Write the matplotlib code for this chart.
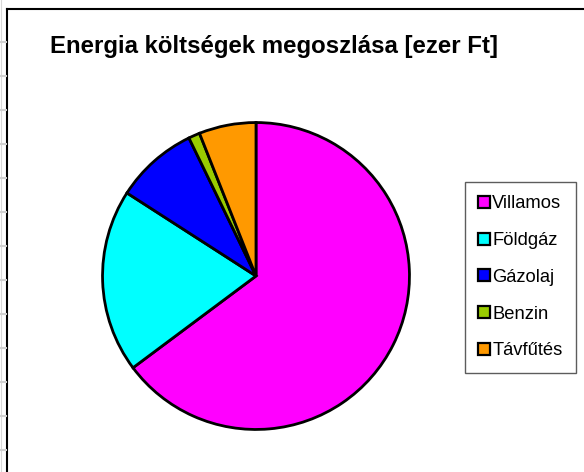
"""
Energia költségek megoszlása - kördiagram újrarajzolása.
"""

import matplotlib
matplotlib.use('Agg')
import matplotlib.pyplot as plt
from matplotlib.lines import Line2D

# adatok (becsült részesedés, %)
labels = ['Villamos', 'Földgáz', 'Gázolaj', 'Benzin', 'Távfűtés']
values = [64.8, 19.3, 8.7, 1.2, 6.0]
colors = ['#FF00FF', '#00FFFF', '#0000FF', '#99CC00', '#FF9900']

TITLE = 'Energia költségek megoszlása [ezer Ft]'
W, H = 584, 472
DPI = 100

plt.rcParams['font.family'] = ['Liberation Sans', 'DejaVu Sans']

fig = plt.figure(figsize=(W / DPI, H / DPI), dpi=DPI)


def px(x, y):
    # pixel (top-left origin) -> figure fraction
    return x / W, 1 - y / H


# keret: bal és felső vonal, szürke osztásjelek a bal sávban
fig.add_artist(Line2D([px(7, 0)[0], px(7, 0)[0]], [0, px(0, 9)[1]],
                      color='black', lw=1.5, transform=fig.transFigure))
fig.add_artist(Line2D([px(7, 0)[0], 1], [px(0, 9)[1], px(0, 9)[1]],
                      color='black', lw=1.5, transform=fig.transFigure))
fig.add_artist(Line2D([px(1, 0)[0], px(1, 0)[0]], [0, 1],
                      color='#d8d8d8', lw=0.8, transform=fig.transFigure))
for ty in range(42, 472, 34):
    fig.add_artist(Line2D([px(1, 0)[0], px(6, 0)[0]], [px(0, ty)[1], px(0, ty)[1]],
                          color='#d0d0d0', lw=1.5, transform=fig.transFigure))

# kör
cx, cy, r = 256, 276, 155
ax = fig.add_axes([(cx - r) / W, (H - cy - r) / H, 2 * r / W, 2 * r / H])
wedges, _ = ax.pie(values, colors=colors, startangle=90, counterclock=False,
                   wedgeprops=dict(edgecolor='black', linewidth=2.0))
ax.set_xlim(-1.01, 1.01)
ax.set_ylim(-1.01, 1.01)
ax.set_aspect('equal')
ax.axis('off')

# cím
fig.text(*px(50, 46), TITLE, fontsize=17.3, fontweight='bold',
         ha='left', va='center')

# jelmagyarázat
handles = [Line2D([], [], marker='s', linestyle='none', markersize=8.5,
                  markerfacecolor=c, markeredgecolor='black', markeredgewidth=1.6)
           for c in colors]
leg = fig.legend(handles, labels, loc='upper left',
                 bbox_to_anchor=px(465, 182), fontsize=13.2,
                 frameon=True, fancybox=False, edgecolor='#333333',
                 handlelength=0.65, handletextpad=0.12, labelspacing=1.08,
                 borderpad=0.72, borderaxespad=0)
leg.get_frame().set_linewidth(1.0)
leg._legend_box.align = 'left'

plt.savefig('out.png', dpi=DPI)
